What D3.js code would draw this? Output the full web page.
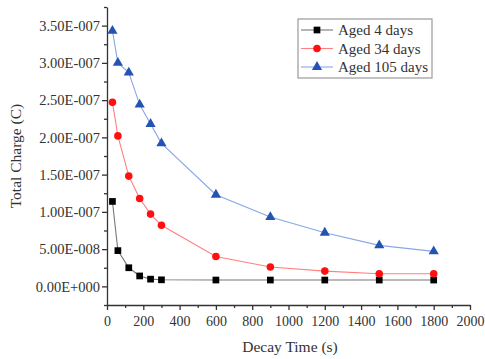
<!DOCTYPE html>
<html>
<head>
<meta charset="utf-8">
<script src="https://cdn.jsdelivr.net/npm/d3@7"></script>
<style>
  body { margin: 0; background: #fff; }
</style>
</head>
<body>
<div id="chart"></div>
<script>
// decay times (s)
const times = [30, 60, 120, 180, 240, 300, 600, 900, 1200, 1500, 1800];
// total charge (C)
const aged4 = [1.14e-7, 0.48e-7, 0.25e-7, 0.14e-7, 0.097e-7, 0.088e-7, 0.085e-7, 0.085e-7, 0.085e-7, 0.085e-7, 0.085e-7];
const aged34 = [2.47e-7, 2.02e-7, 1.48e-7, 1.18e-7, 0.97e-7, 0.82e-7, 0.40e-7, 0.26e-7, 0.205e-7, 0.17e-7, 0.17e-7];
const aged105 = [3.43e-7, 3.00e-7, 2.87e-7, 2.44e-7, 2.18e-7, 1.92e-7, 1.23e-7, 0.93e-7, 0.72e-7, 0.55e-7, 0.47e-7];
const seriesNames = ["Aged 4 days", "Aged 34 days", "Aged 105 days"];
const xTicks = [0, 200, 400, 600, 800, 1000, 1200, 1400, 1600, 1800, 2000];
const yTicks = [0, 0.5e-7, 1.0e-7, 1.5e-7, 2.0e-7, 2.5e-7, 3.0e-7, 3.5e-7];

const width = 485, height = 359;
const mLeft = 107, mRight = 470, mTop = 7, mBottom = 305;
const serif = "'Liberation Serif', 'Times New Roman', serif";

const svg = d3.select("#chart").append("svg")
  .attr("width", width)
  .attr("height", height)
  .attr("font-family", serif);

const x = d3.scaleLinear().domain([0, 2000]).range([mLeft, mRight]);
const y = d3.scaleLinear().domain([-0.25e-7, 3.75e-7]).range([mBottom, mTop]);

// axes
const xAxis = svg.append("g").attr("transform", `translate(0,${mBottom})`)
  .call(d3.axisBottom(x).tickValues(xTicks).tickFormat(d3.format("d")).tickSize(5).tickSizeOuter(0));
xAxis.attr("font-family", serif).attr("font-size", 14);
xAxis.selectAll(".tick text").attr("dy", "0.9em").attr("fill", "#333");
svg.append("g").attr("transform", `translate(0,${mBottom})`)
  .call(d3.axisBottom(x).tickValues(d3.range(100, 2000, 200)).tickFormat("").tickSize(3).tickSizeOuter(0))
  .select(".domain").remove();

const fmt = v => {
  if (v === 0) return "0.00E+000";
  const e = Math.floor(Math.log10(v) + 1e-9);
  const m = v / Math.pow(10, e);
  return m.toFixed(2) + "E-" + String(-e).padStart(3, "0");
};
const yAxis = svg.append("g").attr("transform", `translate(${mLeft},0)`)
  .call(d3.axisLeft(y).tickValues(yTicks).tickFormat(fmt).tickSize(5).tickSizeOuter(0));
yAxis.attr("font-family", serif).attr("font-size", 14.5);
yAxis.selectAll(".tick text").attr("x", -7).attr("fill", "#333");
svg.append("g").attr("transform", `translate(${mLeft},0)`)
  .call(d3.axisLeft(y).tickValues(d3.range(-0.25e-7, 3.8e-7, 0.5e-7)).tickFormat("").tickSize(3).tickSizeOuter(0))
  .select(".domain").remove();

svg.selectAll(".domain, .tick line").attr("stroke", "#333").attr("stroke-width", 1.3);

// axis titles
svg.append("text")
  .attr("transform", `translate(21,${(mTop + mBottom) / 2}) rotate(-90)`)
  .attr("text-anchor", "middle")
  .attr("font-size", 15.5)
  .attr("fill", "#333")
  .text("Total Charge (C)");
svg.append("text")
  .attr("x", 290).attr("y", 352)
  .attr("text-anchor", "middle")
  .attr("font-size", 15.5)
  .attr("fill", "#333")
  .text("Decay Time (s)");

const series = [
  { name: seriesNames[0], values: aged4, line: "#777", fill: "#000", shape: d3.symbolSquare, size: 45 },
  { name: seriesNames[1], values: aged34, line: "#ff8080", fill: "#ff1010", shape: d3.symbolCircle, size: 45 },
  { name: seriesNames[2], values: aged105, line: "#8aa6e6", fill: "#2453b3", shape: d3.symbolTriangle, size: 45 }
];

const line = d3.line()
  .x(d => x(d[0]))
  .y(d => y(d[1]));

series.forEach(s => {
  const pts = times.map((t, i) => [t, s.values[i]]);
  svg.append("path")
    .attr("d", line(pts))
    .attr("fill", "none")
    .attr("stroke", s.line)
    .attr("stroke-width", 1.1);
  svg.selectAll(null).data(pts).enter()
    .append("path")
    .attr("d", d3.symbol().type(s.shape).size(s.size))
    .attr("transform", d => `translate(${x(d[0])},${y(d[1])})`)
    .attr("fill", s.fill);
});

// legend
const lg = svg.append("g");
lg.append("rect")
  .attr("x", 298).attr("y", 19)
  .attr("width", 134).attr("height", 59)
  .attr("fill", "#fff")
  .attr("stroke", "#999")
  .attr("stroke-width", 1.2);
series.forEach((s, i) => {
  const cy = 30 + i * 18.5;
  lg.append("line")
    .attr("x1", 301).attr("x2", 333)
    .attr("y1", cy).attr("y2", cy)
    .attr("stroke", s.line).attr("stroke-width", 1.1);
  lg.append("path")
    .attr("d", d3.symbol().type(s.shape).size(s.size))
    .attr("transform", `translate(317,${cy})`)
    .attr("fill", s.fill);
  lg.append("text")
    .attr("x", 338).attr("y", cy)
    .attr("dy", "0.35em")
    .attr("font-size", 15)
    .attr("fill", "#333")
    .text(s.name);
});
</script>
</body>
</html>
